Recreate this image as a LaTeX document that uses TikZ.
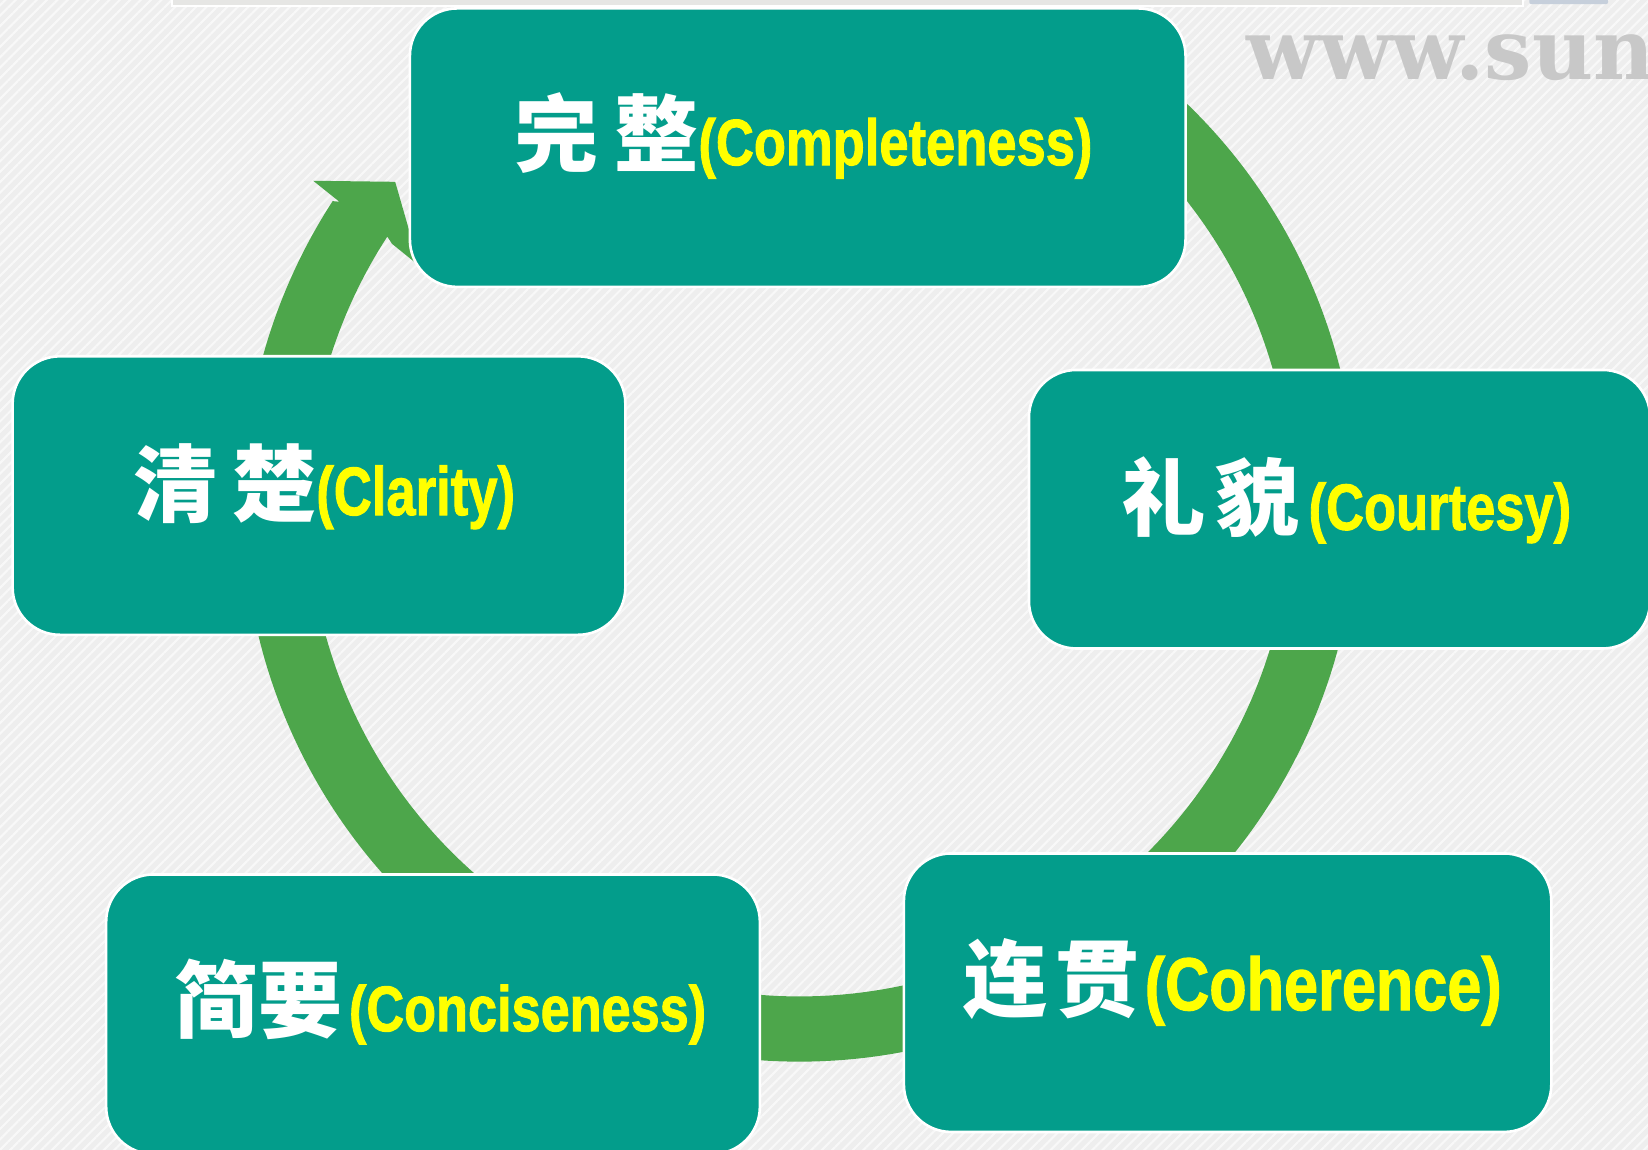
\documentclass[tikz,border=0pt]{standalone}
\usepackage{fontspec}
\usepackage{graphicx}
\usetikzlibrary{patterns.meta}
\newfontfamily\cjk{Noto Sans CJK SC}
\newfontfamily\latf{Liberation Sans}[BoldFeatures={FakeBold=1.6}]
\newfontfamily\wmf{DejaVu Serif}
\definecolor{tealbox}{HTML}{039D8B}
\definecolor{ringg}{HTML}{4DA64B}
\definecolor{bgc}{HTML}{EEEEEE}
\definecolor{stripec}{HTML}{F8F8F8}
\definecolor{wmc}{HTML}{C8C8C8}
\definecolor{barc}{HTML}{E6E6E4}
\definecolor{blobc}{HTML}{C6CFDB}
\definecolor{txtyellow}{HTML}{FFFF00}
% #1 lead offset, #2 char1, #3 char2, #4 gap between chars, #5 gap before latin, #6 latin, #7 size, #8 horizontal scale
\newcommand{\cardtext}[8]{%
\hspace*{#1}%
{\cjk\bfseries\fontsize{80pt}{80pt}\selectfont #2\hspace{#4}#3}%
\hspace{#5}%
\textcolor{txtyellow}{\scalebox{#8}[1]{\latf\bfseries\fontsize{#7}{#7}\selectfont #6}}%
}
\begin{document}
\begin{tikzpicture}[x=1pt,y=-1pt,
  card/.style={draw=white, line width=2.5pt, fill=tealbox, rounded corners=45pt,
               inner sep=0pt, text=white, text depth=0pt, minimum height=265pt},
  watermark/.style={anchor=base west, inner sep=0pt, text=wmc,
               font=\wmf\bfseries\fontsize{80pt}{80pt}\selectfont},
  ring/.style={fill=ringg}
]
\useasboundingbox (0,0) rectangle (1568,1094);
\begin{scope}
\clip (0,0) rectangle (1568,1094);
% background
\fill[bgc] (0,0) rectangle (1568,1094);
\fill[pattern={Lines[angle=45,distance=7pt,line width=2pt]}, pattern color=stripec]
  (0,0) rectangle (1568,1094);
% top bar and watermark
\fill[white] (163,0) rectangle (1450,7);
\fill[barc] (165,0) rectangle (1448,5);
\fill[blobc, rounded corners=2pt] (1455,-4) rectangle (1530,4);
\node[watermark] (wm) at (1186,76) {www.sun};
% circular arrow
\begin{scope}[shift={(761,480)}]
\fill[ring] (-60:530) arc[start angle=-60, end angle=213, radius=530]
  -- (-438,-288) -- (-463,-308) -- (-385,-307) -- (-362,-227) -- (-388,-248)
  -- (213:468) arc[start angle=213, end angle=-60, radius=468] -- cycle;
\end{scope}
% cards
\node[card, minimum width=738pt, text height=33pt] (complete) at (759,140.5)
  {\cardtext{11pt}{完}{整}{15pt}{0pt}{(Completeness)}{62pt}{0.806}};
\node[card, minimum width=591pt, text height=39pt] (courtesy) at (1274.5,484.5)
  {\cardtext{13pt}{礼}{貌}{9pt}{9pt}{(Courtesy)}{62pt}{0.806}};
\node[card, minimum width=616pt, text height=33pt] (coherence) at (1168,944.5)
  {\cardtext{10pt}{连}{贯}{7pt}{5pt}{(Coherence)}{71pt}{0.82}};
\node[card, minimum width=622pt, minimum height=266pt, text height=32pt] (concise) at (412,965)
  {\cardtext{14pt}{简}{要}{0pt}{6pt}{(Conciseness)}{61pt}{0.815}};
\node[card, minimum width=583pt, text height=37pt] (clarity) at (303.5,471.5)
  {\cardtext{10pt}{清}{楚}{14pt}{0pt}{(Clarity)}{65pt}{0.77}};
\end{scope}
\end{tikzpicture}
\end{document}
